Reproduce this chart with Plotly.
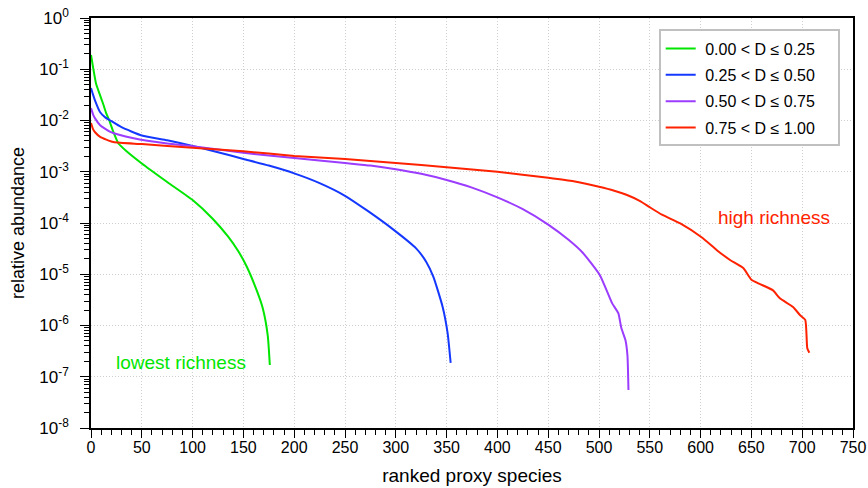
import plotly.graph_objects as go

# ---- data ----
green_rank = [0, 2, 5, 8, 12, 15, 18, 22, 27, 35, 50, 75, 100, 120, 135, 145, 153, 163, 169, 174, 176]
green_val = [0.19, 0.11, 0.052, 0.035, 0.021, 0.0138, 0.010, 0.006, 0.00355, 0.00251, 0.00145, 6.3e-4,
             2.8e-4, 1.2e-4, 5.4e-5, 2.8e-5, 1.45e-5, 4.9e-6, 2.2e-6, 6.3e-7, 1.7e-7]

blue_rank = [0, 2, 4, 9, 14, 19, 30, 50, 75, 100, 125, 150, 175, 200, 225, 250, 272, 297, 320, 330,
             337, 346, 351, 354]
blue_val = [0.043, 0.032, 0.0245, 0.0145, 0.0115, 0.010, 0.0074, 0.0051, 0.0041, 0.0032, 0.0024,
            0.00178, 0.00132, 9.3e-4, 6.0e-4, 3.4e-4, 1.74e-4, 7.6e-5, 3.2e-5, 1.74e-5, 8.9e-6,
            2.35e-6, 7.1e-7, 1.86e-7]

purple_rank = [0, 2, 4, 9, 19, 42, 75, 100, 150, 200, 250, 275, 300, 325, 350, 375, 400, 425, 450,
               470, 484, 501, 513, 519, 522, 526, 528, 529]
purple_val = [0.0174, 0.0132, 0.011, 0.0081, 0.006, 0.0045, 0.00355, 0.00316, 0.00234, 0.00186,
              0.00148, 0.00132, 0.00112, 9.1e-4, 6.9e-4, 4.9e-4, 3.16e-4, 1.86e-4, 9.3e-5, 4.7e-5,
              2.63e-5, 9.5e-6, 2.7e-6, 1.74e-6, 8.9e-7, 5.2e-7, 2.6e-7, 5.5e-8]

red_rank = [0, 2, 4, 9, 22, 50, 100, 150, 200, 250, 300, 350, 400, 450, 475, 500, 515, 527, 540,
            549, 562, 580, 602, 616, 629, 642, 650, 658, 671, 678, 691, 698, 703, 705, 707]
red_val = [0.0089, 0.0068, 0.0059, 0.0048, 0.0038, 0.00347, 0.00295, 0.00251, 0.00204, 0.00178,
           0.00148, 0.00123, 0.001, 7.6e-4, 6.5e-4, 5.1e-4, 4.27e-4, 3.55e-4, 2.7e-4, 2.09e-4,
           1.45e-4, 9.8e-5, 5.1e-5, 2.95e-5, 1.9e-5, 1.32e-5, 7.8e-6, 6.5e-6, 4.9e-6, 3.4e-6,
           2.3e-6, 1.58e-6, 1.29e-6, 3.6e-7, 2.95e-7]

series_names = ["0.00 < D \u2264 0.25", "0.25 < D \u2264 0.50", "0.50 < D \u2264 0.75", "0.75 < D \u2264 1.00"]
series_colors = ["#00e600", "#1438ff", "#9b3cff", "#ff2200"]

y_tick_exps = [0, -1, -2, -3, -4, -5, -6, -7, -8]
x_tick_vals = list(range(0, 751, 50))

# ---- figure ----
FONT = "Liberation Sans, Arial, Helvetica, sans-serif"
fig = go.Figure()
for i, (xr, yv) in enumerate([(green_rank, green_val), (blue_rank, blue_val),
                               (purple_rank, purple_val), (red_rank, red_val)]):
    fig.add_trace(go.Scatter(x=xr, y=yv, mode="lines",
                             name="\u00a0" + series_names[i] + "\u00a0\u00a0\u00a0\u00a0",
                             line=dict(color=series_colors[i], width=2, shape="spline", smoothing=0.5),
                             legendgroup=str(i)))

y_tickvals = [10.0 ** e for e in y_tick_exps]
y_ticktext = ["10<sup>%d</sup>" % e for e in y_tick_exps]
y_minor = [m * 10.0 ** e for e in range(-8, 0) for m in range(2, 10)]

fig.update_layout(
    width=868, height=488,
    margin=dict(l=91, r=15, t=18, b=60, autoexpand=False),
    paper_bgcolor="white", plot_bgcolor="white",
    font=dict(family=FONT, size=16, color="black"),
    showlegend=True,
    legend=dict(x=0.745, y=0.972, xanchor="left", yanchor="top",
                bgcolor="white", bordercolor="#c0c0c0", borderwidth=2,
                font=dict(size=16, family=FONT), tracegroupgap=2.6,
                itemwidth=30),
    annotations=[
        dict(x=22.5, y=-6.72, xref="x", yref="y", text="lowest richness", showarrow=False,
             xanchor="left", yanchor="middle", font=dict(size=19, color="#00e600", family=FONT)),
        dict(x=615, y=-3.89, xref="x", yref="y", text="high richness", showarrow=False,
             xanchor="left", yanchor="middle", font=dict(size=19, color="#ff2200", family=FONT)),
    ],
)

GRID = "#cfcfcf"
fig.update_xaxes(
    range=[0, 750], tickmode="array", tickvals=x_tick_vals,
    ticks="outside", ticklen=8, tickwidth=1, tickcolor="black",
    showline=True, linecolor="black", linewidth=1.5, mirror=True,
    showgrid=True, gridcolor=GRID, griddash="1px,2px", gridwidth=1,
    zeroline=False, tickfont=dict(size=16), ticklabelstandoff=-4,
    minor=dict(dtick=10, ticks="outside", ticklen=5, tickcolor="black", showgrid=False),
    title=dict(text="ranked proxy species", font=dict(size=19), standoff=14),
    automargin=False,
)
fig.update_yaxes(
    type="log", range=[-8, 0], tickmode="array", tickvals=y_tickvals, ticktext=y_ticktext,
    ticks="outside", ticklen=9, tickwidth=1, tickcolor="black",
    showline=True, linecolor="black", linewidth=1.5, mirror=True,
    showgrid=True, gridcolor=GRID, griddash="1px,2px", gridwidth=1,
    zeroline=False, tickfont=dict(size=17), ticklabelstandoff=8,
    minor=dict(tickmode="array", tickvals=y_minor, ticks="outside", ticklen=5,
               tickcolor="black", showgrid=False),
    title=dict(text="relative abundance", font=dict(size=18), standoff=10),
    automargin=False,
)

fig.write_html("out.html")
